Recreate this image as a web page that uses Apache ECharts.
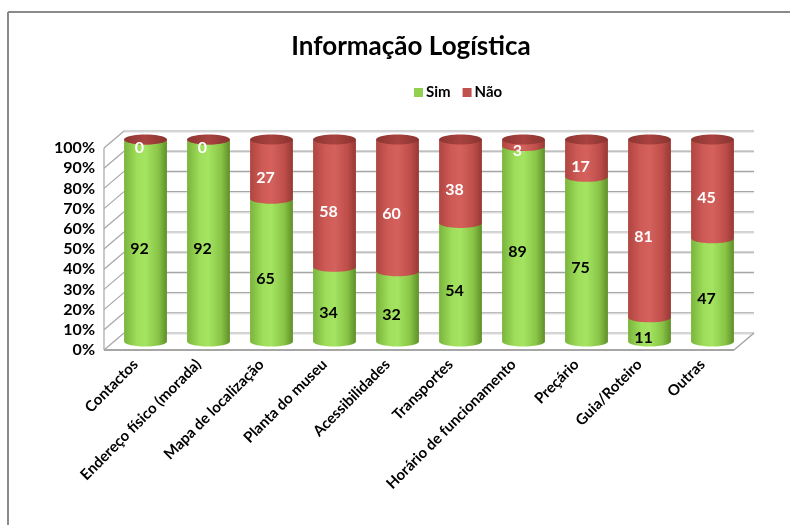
<!DOCTYPE html>
<html><head><meta charset="utf-8">
<script src="https://cdn.jsdelivr.net/npm/echarts@6/dist/echarts.min.js"></script>
<style>html,body{margin:0;padding:0;background:#fff}#c{width:790px;height:525px}</style>
</head><body><div id="c"></div>
<script>
const categories = ['Contactos','Endereço físico (morada)','Mapa de localização','Planta do museu','Acessibilidades','Transportes','Horário de funcionamento','Preçário','Guia/Roteiro','Outras'];
const simValues = [92,92,65,34,32,54,89,75,11,47];
const naoValues = [0,0,27,58,60,38,3,17,81,45];
const yTicks = [0,10,20,30,40,50,60,70,80,90,100];

const DX = 20, DY = -17;
const FONT = 'Lato';
const simData = categories.map((c,i)=>{const t=simValues[i]+naoValues[i];return [i, simValues[i]/t*100, simValues[i]];});
const naoData = categories.map((c,i)=>{const t=simValues[i]+naoValues[i];return [i, simValues[i]/t*100, 100, naoValues[i]];});

function halfEllipse(cx, y, rx, ry, n){
  const pts=[];
  for(let k=0;k<=n;k++){const a=Math.PI-Math.PI*k/n;pts.push([cx+rx*Math.cos(a), y+ry*Math.sin(a)]);}
  return pts;
}
function fullEllipse(cx, y, rx, ry, n){
  const pts=[];
  for(let k=0;k<n;k++){const a=2*Math.PI*k/n;pts.push([cx+rx*Math.cos(a), y+ry*Math.sin(a)]);}
  return pts;
}
const greenGrad = ()=>new echarts.graphic.LinearGradient(0,0,1,0,[
  {offset:0,color:'#7ab43c'},{offset:0.3,color:'#9ede5a'},{offset:0.5,color:'#a4e462'},{offset:0.8,color:'#88c446'},{offset:1,color:'#5f8f28'}]);
const redGrad = ()=>new echarts.graphic.LinearGradient(0,0,1,0,[
  {offset:0,color:'#b04540'},{offset:0.3,color:'#cf5b57'},{offset:0.5,color:'#d4615c'},{offset:0.8,color:'#bf4e4a'},{offset:1,color:'#963834'}]);
const capGrad = ()=>new echarts.graphic.LinearGradient(0,0,1,0,[
  {offset:0,color:'#8e3532'},{offset:0.5,color:'#a8433f'},{offset:1,color:'#8a3330'}]);

function segment(api, i, lo, hi, grad, withCap){
  const bw = api.size([1,0])[0];
  const rx = bw*0.34, ry = 5;
  const b = api.coord([i, lo]), t = api.coord([i, hi]);
  const cx = b[0] + DX/2, yb = b[1] + DY/2, yt = t[1] + DY/2;
  const pts = [[cx-rx, yt]].concat(halfEllipse(cx, yb, rx, ry, 30)).concat([[cx+rx, yt]]);
  const kids = [{type:'polygon', shape:{points:pts}, style:{fill:grad()}}];
  if(withCap){
    kids.push({type:'polygon', shape:{points:fullEllipse(cx, yt, rx, ry, 40)}, style:{fill:capGrad()}});
  }
  return kids;
}
function labelEl(api, i, lo, hi, txt, color){
  const p = api.coord([i, (lo+hi)/2]);
  return {type:'text', z2:50, style:{text:String(txt), x:p[0]+4, y:p[1], align:'center', verticalAlign:'middle', textAlign:'center', textVerticalAlign:'middle', fill:color, fontFamily:FONT, fontWeight:'bold', fontSize:16}};
}

const option = {
  animation:false,
  backgroundColor:'#fff',
  title:{text:'Informação Logística', left:406, textAlign:'center', top:29,
    textStyle:{fontFamily:FONT, fontWeight:'bold', fontSize:26, color:'#000'}},
  legend:{data:['Sim','Não'], left:409, top:80, textAlign:'center', icon:'rect', itemWidth:9, itemHeight:9, itemGap:12,
    textStyle:{fontFamily:FONT, fontWeight:'bold', fontSize:15, color:'#000', padding:[0,0,0,-2]}},
  grid:{left:104, right:56, top:148, bottom:175},
  xAxis:{type:'category', data:categories, axisLine:{show:false}, axisTick:{show:false},
    axisLabel:{rotate:45, interval:0, margin:12, fontFamily:FONT, fontWeight:'bold', fontSize:15, color:'#000'}},
  yAxis:{type:'value', min:0, max:100, interval:10, axisLine:{show:false}, axisTick:{show:false}, splitLine:{show:false},
    axisLabel:{formatter:'{value}%', margin:9, fontFamily:FONT, fontWeight:'bold', fontSize:16, color:'#000'}},
  graphic:[
    {type:'line', shape:{x1:8, y1:12, x2:790, y2:12}, style:{stroke:'#8a8a8a', lineWidth:2}},
    {type:'line', shape:{x1:8, y1:12, x2:8, y2:525}, style:{stroke:'#8a8a8a', lineWidth:2}}
  ],
  series:[
    {type:'custom', name:'walls', silent:true, z:1, data:[[0]], legendHoverLink:false,
      renderItem:function(params, api){
        const cs = params.coordSys;
        const x0 = cs.x, x1 = cs.x+cs.width;
        const kids = [];
        const lineStyle = {stroke:'#a6a6a6', lineWidth:1.2};
        yTicks.forEach(v=>{
          const y = api.coord([0, v])[1];
          kids.push({type:'line', shape:{x1:x0, y1:y, x2:x0+DX, y2:y+DY}, style:lineStyle});
          kids.push({type:'line', shape:{x1:x0+DX, y1:y+DY, x2:x1+DX, y2:y+DY}, style:lineStyle});
          kids.push({type:'line', shape:{x1:x0+DX, y1:y+DY+1.2, x2:x1+DX, y2:y+DY+1.2}, style:{stroke:'#e2e2e2', lineWidth:1}});
        });
        const yb = api.coord([0,0])[1], ytop = api.coord([0,100])[1];
        kids.push({type:'line', shape:{x1:x0, y1:yb, x2:x0, y2:ytop}, style:lineStyle});
        kids.push({type:'line', shape:{x1:x0, y1:yb, x2:x1, y2:yb}, style:{stroke:'#a6a6a6', lineWidth:2}});
        kids.push({type:'line', shape:{x1:x1, y1:yb, x2:x1+DX, y2:yb+DY}, style:{stroke:'#a6a6a6', lineWidth:1.5}});
        return {type:'group', children:kids};
      }},
    {type:'custom', name:'Sim', z:2, itemStyle:{color:'#92d050'}, data:simData, encode:{x:0, y:1},
      renderItem:function(params, api){
        const i = api.value(0), hi = api.value(1), n = api.value(2);
        const kids = segment(api, i, 0, hi, greenGrad, false);
        kids.push(labelEl(api, i, 0, hi, n, '#000'));
        return {type:'group', children:kids};
      }},
    {type:'custom', name:'Não', z:3, itemStyle:{color:'#c0504d'}, data:naoData, encode:{x:0, y:[1,2]},
      renderItem:function(params, api){
        const i = api.value(0), lo = api.value(1), hi = api.value(2), n = api.value(3);
        const kids = segment(api, i, lo, hi, redGrad, true);
        kids.push(labelEl(api, i, lo, hi, n, '#fff'));
        return {type:'group', children:kids};
      }}
  ]
};
const chart = echarts.init(document.getElementById('c'), null, {renderer:'canvas'});
chart.setOption(option);
</script></body></html>
